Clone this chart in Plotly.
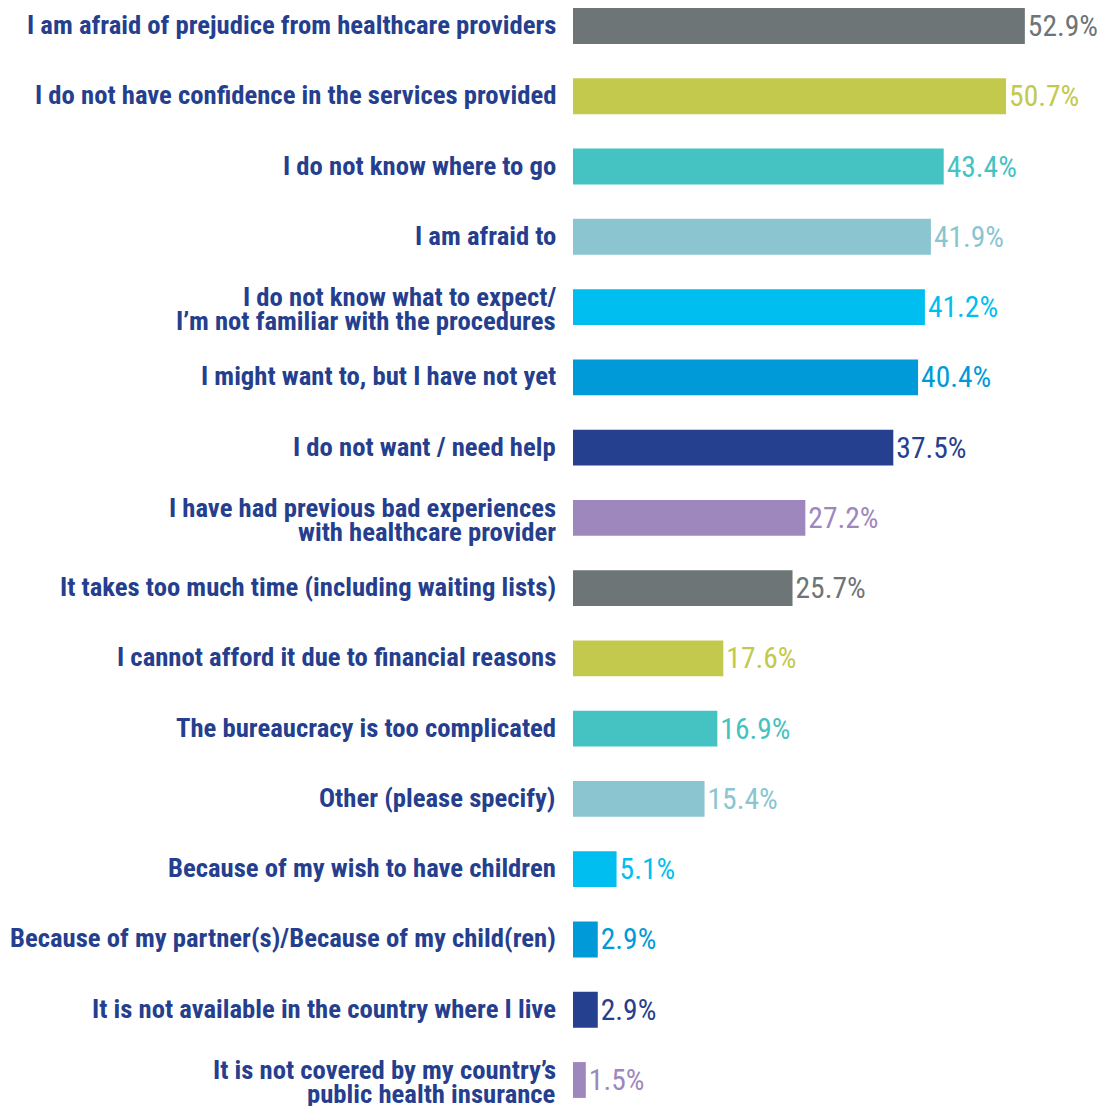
import plotly.graph_objects as go

categories = [
    "I am afraid of prejudice from healthcare providers",
    "I do not have confidence in the services provided",
    "I do not know where to go",
    "I am afraid to",
    "I do not know what to expect/<br>I’m not familiar with the procedures",
    "I might want to, but I have not yet",
    "I do not want / need help",
    "I have had previous bad experiences<br>with healthcare provider",
    "It takes too much time (including waiting lists)",
    "I cannot afford it due to financial reasons",
    "The bureaucracy is too complicated",
    "Other (please specify)",
    "Because of my wish to have children",
    "Because of my partner(s)/Because of my child(ren)",
    "It is not available in the country where I live",
    "It is not covered by my country’s<br>public health insurance",
]
values = [52.9, 50.7, 43.4, 41.9, 41.2, 40.4, 37.5, 27.2, 25.7, 17.6, 16.9, 15.4, 5.1, 2.9, 2.9, 1.5]
palette = ["#6d7577", "#c3c94d", "#45c2c2", "#8ac5d0", "#00bff0", "#009ad9", "#25408f", "#9e87bd"]
colors = [palette[i % len(palette)] for i in range(len(values))]
labels = [f"{v}%" for v in values]

fig = go.Figure(go.Bar(
    x=values,
    y=categories,
    orientation="h",
    marker=dict(color=colors, line=dict(width=0)),
    width=0.51,
    text=labels,
    textposition="outside",
    textfont=dict(family="Roboto Condensed", size=29.5, color=colors),
    cliponaxis=False,
))

# category labels drawn line by line so two-line labels keep tight spacing
for cat in categories:
    lines = cat.split("<br>")
    shifts = [1] if len(lines) == 1 else [10, -14]
    for line, dy in zip(lines, shifts):
        fig.add_annotation(
            xref="paper", x=0, xshift=-15, xanchor="right",
            yref="y", y=cat, yshift=dy,
            text=line, showarrow=False,
            font=dict(family="Roboto Condensed", size=26.7, color="#253f8e", weight="bold"),
        )

# page body adds an 8px margin, so the figure is 8px smaller than the window
fig.update_layout(
    width=1098,
    height=1098,
    margin=dict(l=565, r=0, t=0, b=0),
    plot_bgcolor="white",
    paper_bgcolor="white",
    showlegend=False,
)
fig.update_xaxes(range=[0, 62.4], visible=False)
fig.update_yaxes(
    range=[15.37, -0.256],
    showgrid=False,
    showline=False,
    showticklabels=False,
    automargin=False,
)

fig.write_html("out.html")
